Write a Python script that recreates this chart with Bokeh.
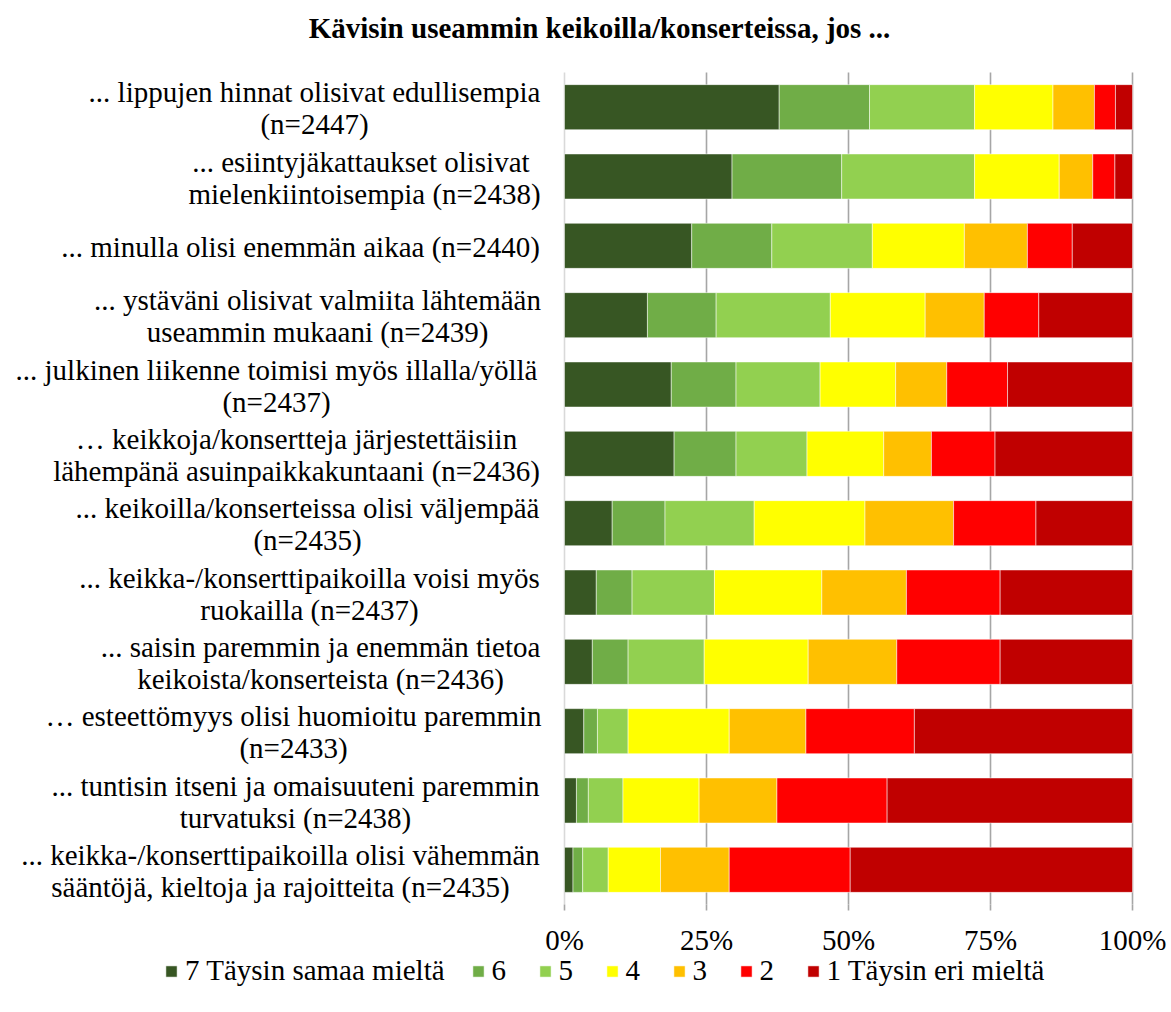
from bokeh.plotting import figure
from bokeh.models import Range1d, Legend, LegendItem, ColumnDataSource
from bokeh.core.properties import value
from bokeh.embed import file_html
from bokeh.resources import INLINE

# ---------------- data ----------------
title_text = "Kävisin useammin keikoilla/konserteissa, jos ..."
categories = [
    "... lippujen hinnat olisivat edullisempia\n(n=2447)",
    "... esiintyjäkattaukset olisivat \nmielenkiintoisempia (n=2438)",
    "... minulla olisi enemmän aikaa (n=2440)",
    "... ystäväni olisivat valmiita lähtemään\nuseammin mukaani (n=2439)",
    "... julkinen liikenne toimisi myös illalla/yöllä\n(n=2437)",
    "… keikkoja/konsertteja järjestettäisiin\nlähempänä asuinpaikkakuntaani (n=2436)",
    "... keikoilla/konserteissa olisi väljempää\n(n=2435)",
    "... keikka-/konserttipaikoilla voisi myös\nruokailla (n=2437)",
    "... saisin paremmin ja enemmän tietoa\nkeikoista/konserteista (n=2436)",
    "… esteettömyys olisi huomioitu paremmin\n(n=2433)",
    "... tuntisin itseni ja omaisuuteni paremmin\nturvatuksi (n=2438)",
    "... keikka-/konserttipaikoilla olisi vähemmän\nsääntöjä, kieltoja ja rajoitteita (n=2435)",
]
series_names = ["7 Täysin samaa mieltä", "6", "5", "4", "3", "2", "1 Täysin eri mieltä"]
s7 = [37.8, 29.5, 22.4, 14.6, 18.8, 19.3, 8.4, 5.6, 4.9, 3.4, 2.1, 1.5]
s6 = [15.9, 19.3, 14.1, 12.1, 11.4, 10.9, 9.3, 6.3, 6.3, 2.4, 2.1, 1.7]
s5 = [18.5, 23.4, 17.7, 20.1, 14.8, 12.5, 15.7, 14.5, 13.4, 5.4, 6.1, 4.5]
s4 = [13.8, 14.9, 16.2, 16.7, 13.3, 13.5, 19.5, 18.9, 18.3, 17.8, 13.4, 9.2]
s3 = [7.3, 5.9, 11.1, 10.4, 9.0, 8.4, 15.6, 14.9, 15.6, 13.5, 13.7, 12.1]
s2 = [3.7, 3.9, 7.9, 9.6, 10.7, 11.2, 14.5, 16.5, 18.2, 19.1, 19.4, 21.3]
s1 = [3.0, 3.1, 10.6, 16.5, 22.0, 24.2, 17.0, 23.3, 23.3, 38.4, 43.2, 49.7]
tick_values = [0, 25, 50, 75, 100]
tick_labels = ["0%", "25%", "50%", "75%", "100%"]

# ---------------- styles / layout (pixels) ----------------
colors = ["#375623", "#70AD47", "#92D050", "#FFFF00", "#FFC000", "#FF0000", "#C00000"]
FONT = "Liberation Serif"
FS = "29px"
W, H = 1168, 1004
PLOT_L, PLOT_R, PLOT_T, PLOT_B = 564, 1132, 72, 904
n = len(categories)
XPX = (PLOT_R - PLOT_L) / 100.0          # px per percent
YPX = (PLOT_B - PLOT_T) / n              # px per row
# horizontal centre of each label block, px relative to the 0% line
label_center_px = [-250, -200, -264, -247, -288, -268, -257, -255, -244, -271, -269, -284]

x0 = -PLOT_L / XPX
x1 = x0 + W / XPX
ytop = -PLOT_T / YPX
ybot = ytop + H / YPX

keys = ["s7", "s6", "s5", "s4", "s3", "s2", "s1"]
ypos = [i + 0.5 for i in range(n)]
source = ColumnDataSource(dict(y=ypos, s7=s7, s6=s6, s5=s5, s4=s4, s3=s3, s2=s2, s1=s1))

p = figure(width=W, height=H, output_backend="svg", toolbar_location=None,
           x_range=Range1d(x0, x1), y_range=Range1d(ybot, ytop),
           min_border=0, x_axis_type=None, y_axis_type=None)
p.outline_line_color = None
p.grid.visible = False

# gridlines and ticks
grid_x = tick_values[1:]
p.segment(x0=grid_x, y0=[0] * len(grid_x), x1=grid_x, y1=[n] * len(grid_x),
          line_color="#A6A6A6", line_width=1.6)
p.segment(x0=[0], y0=[0], x1=[0], y1=[n], line_color="#D9D9D9", line_width=1.6)
p.segment(x0=tick_values, y0=[n] * len(tick_values), x1=tick_values,
          y1=[n + 6 / YPX] * len(tick_values), line_color="#A6A6A6", line_width=1.6)

renderers = p.hbar_stack(keys, y="y", height=0.65, color=colors, source=source,
                         line_color="white", line_width=0.5)

# tick labels
p.text(x=tick_values, y=[n + 35 / YPX] * len(tick_values), text=tick_labels,
       text_align="center", text_baseline="middle",
       text_font=value(FONT), text_font_size=value(FS), text_color="black")

# category labels
lx, ly, lt = [], [], []
for yc, cat, cx in zip(ypos, categories, label_center_px):
    lines = cat.split("\n")
    offs = [1] if len(lines) == 1 else [-15, 17]
    for ln, off in zip(lines, offs):
        lx.append(cx / XPX)
        ly.append(yc + off / YPX)
        lt.append(ln)
p.text(x=lx, y=ly, text=lt, text_align="center", text_baseline="middle",
       text_font=value(FONT), text_font_size=value(FS), text_color="black")

# title
p.text(x=[35 / XPX], y=[-45 / YPX], text=[title_text], text_align="center",
       text_baseline="middle", text_font=value(FONT), text_font_size=value(FS),
       text_font_style="bold", text_color="black")

legend = Legend(items=[LegendItem(label=nm, renderers=[r]) for nm, r in zip(series_names, renderers)],
                orientation="horizontal", location=(164, H - 987),
                glyph_width=14, glyph_height=14, label_standoff=7, spacing=26,
                padding=0, margin=0, border_line_color=None, background_fill_alpha=0,
                label_text_font=FONT, label_text_font_size=FS, label_text_color="black")
p.add_layout(legend, "center")

open("out.html", "w").write(file_html(p, INLINE))
